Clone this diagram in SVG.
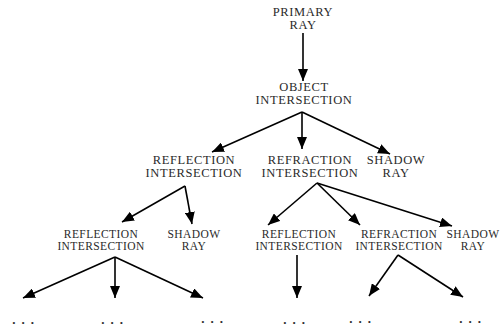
<svg xmlns="http://www.w3.org/2000/svg" width="500" height="329" viewBox="0 0 500 329">
<style>
text{font-family:"Liberation Serif","Times New Roman",serif;fill:#2a2a2a;text-anchor:middle}
.l1{font-size:12.5px;letter-spacing:0.6px}
.l3{font-size:11.5px;letter-spacing:0.4px}
.dots{font-size:13px;font-weight:bold;letter-spacing:6px}
.c path{fill:none;stroke:#000;stroke-width:1.6;marker-end:url(#ah)}
</style>
<defs>
<marker id="ah" markerUnits="userSpaceOnUse" viewBox="0 0 12 10" refX="12" refY="5" markerWidth="12" markerHeight="10" orient="auto">
<path d="M0,0 L12,5 L0,10 Z" fill="#000"/>
</marker>
</defs>
<rect width="500" height="329" fill="#fff"/>
<g class="c" id="connectors">
<path d="M303,33 L303,81"/>
<path d="M302,112 L212,152"/>
<path d="M302,112 L302,149"/>
<path d="M302,112 L390,154"/>
<path d="M185,186 L122,222"/>
<path d="M185,186 L192,224"/>
<path d="M317,183 L268,225"/>
<path d="M317,183 L360,225"/>
<path d="M317,183 L452,226"/>
<path d="M115,257 L23,298"/>
<path d="M115,257 L115,298"/>
<path d="M115,257 L203,298"/>
<path d="M297,255 L297,298"/>
<path d="M398,255 L369,296"/>
<path d="M398,255 L463,297"/>
</g>
<g id="primary-ray"><text class="l1" x="303" y="16">PRIMARY</text><text class="l1" x="303" y="29">RAY</text></g>
<g id="object-intersection"><text class="l1" x="304" y="91">OBJECT</text><text class="l1" x="304" y="104">INTERSECTION</text></g>
<g id="reflection-1"><text class="l1" x="194" y="164">REFLECTION</text><text class="l1" x="194" y="177">INTERSECTION</text></g>
<g id="refraction-1"><text class="l1" x="310" y="164">REFRACTION</text><text class="l1" x="310" y="177">INTERSECTION</text></g>
<g id="shadow-1"><text class="l1" x="396" y="164">SHADOW</text><text class="l1" x="396" y="177">RAY</text></g>
<g id="reflection-2a"><text class="l3" x="101" y="238">REFLECTION</text><text class="l3" x="101" y="250">INTERSECTION</text></g>
<g id="shadow-2a"><text class="l3" x="194" y="238">SHADOW</text><text class="l3" x="194" y="250">RAY</text></g>
<g id="reflection-2b"><text class="l3" x="299" y="238">REFLECTION</text><text class="l3" x="299" y="250">INTERSECTION</text></g>
<g id="refraction-2b"><text class="l3" x="399" y="238">REFRACTION</text><text class="l3" x="399" y="250">INTERSECTION</text></g>
<g id="shadow-2b"><text class="l3" x="473" y="238">SHADOW</text><text class="l3" x="473" y="250">RAY</text></g>
<g id="dots">
<text class="dots" x="26" y="324">...</text>
<text class="dots" x="115" y="324">...</text>
<text class="dots" x="215" y="323">...</text>
<text class="dots" x="297" y="324">...</text>
<text class="dots" x="363" y="323">...</text>
<text class="dots" x="473" y="323">...</text>
</g>
</svg>
